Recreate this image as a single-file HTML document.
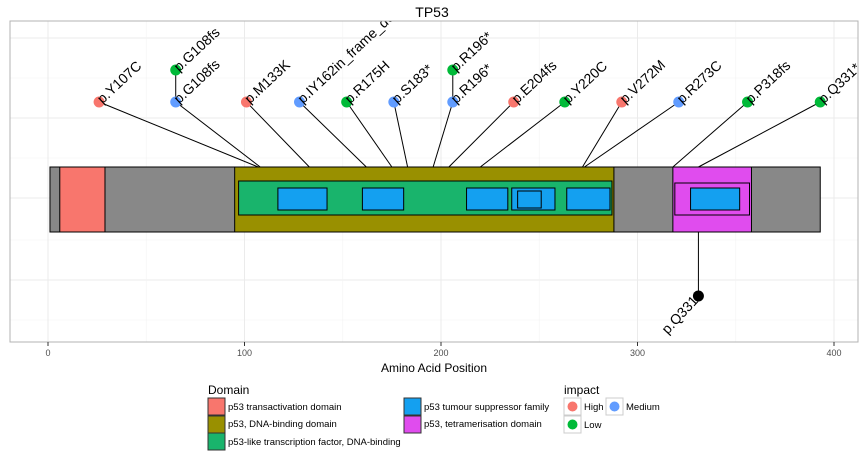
<!DOCTYPE html>
<html><head><meta charset="utf-8"><style>
body{margin:0;background:#fff;font-family:"Liberation Sans",sans-serif}
svg text{font-family:"Liberation Sans",sans-serif}
</style></head><body>
<svg id="c" width="864" height="468" viewBox="0 0 864 468" xmlns="http://www.w3.org/2000/svg">
<defs><clipPath id="pc"><rect x="10" y="21" width="848" height="321"/></clipPath></defs>
<text x="432" y="17" text-anchor="middle" font-size="14">TP53</text>
<g id="grid"></g>
<g id="plot" clip-path="url(#pc)"></g>
<rect x="10" y="21" width="848" height="321" fill="none" stroke="#b3b3b3"/>
<g id="axis"></g>
<text x="434" y="372" text-anchor="middle" font-size="12">Amino Acid Position</text>
<g>
<text x="208" y="394" font-size="12">Domain</text>
<rect x="208" y="398" width="17" height="17" fill="#F8766D" stroke="#333"/>
<text x="228" y="410" font-size="9.5">p53 transactivation domain</text>
<rect x="208" y="416" width="17" height="17" fill="#999000" stroke="#333"/>
<text x="228" y="427" font-size="9.5">p53, DNA-binding domain</text>
<rect x="208" y="433" width="17" height="17" fill="#19B46C" stroke="#333"/>
<text x="228" y="445" font-size="9.5">p53-like transcription factor, DNA-binding</text>
<rect x="404" y="398" width="17" height="17" fill="#14A0F0" stroke="#333"/>
<text x="424" y="410" font-size="9.5">p53 tumour suppressor family</text>
<rect x="404" y="416" width="17" height="17" fill="#E04CEE" stroke="#333"/>
<text x="424" y="427" font-size="9.5">p53, tetramerisation domain</text>
</g>
<g>
<text x="564" y="394" font-size="12">impact</text>
<rect x="564" y="398" width="17" height="17" fill="#fff" stroke="#ccc"/>
<circle cx="572.5" cy="406.5" r="5" fill="#F8766D"/>
<text x="584" y="410" font-size="9.5">High</text>
<rect x="606" y="398" width="17" height="17" fill="#fff" stroke="#ccc"/>
<circle cx="614.5" cy="406.5" r="5" fill="#619CFF"/>
<text x="626" y="410" font-size="9.5">Medium</text>
<rect x="564" y="416" width="17" height="17" fill="#fff" stroke="#ccc"/>
<circle cx="572.5" cy="424.5" r="5" fill="#00BA38"/>
<text x="584" y="428" font-size="9.5">Low</text>
</g>
</svg>
<script>
const xTicks=[0,100,200,300,400];
const proteinLength=[1,393];
const domainNames=["p53 transactivation domain","p53, DNA-binding domain","p53, tetramerisation domain"];
const domainStart=[6,95,318];
const domainEnd=[29,288,358];
const domainColor=["#F8766D","#999000","#E04CEE"];
const likeStart=[97],likeEnd=[287];
const familyStart=[117,160,213,236,264,327];
const familyEnd=[142,181,234,258,286,352];
const innerStart=[239],innerEnd=[251];
const tetraInnerStart=[319],tetraInnerEnd=[357];
const mutLabels=["p.Y107C","p.G108fs","p.G108fs","p.M133K","p.IY162in_frame_del","p.R175H","p.S183*","p.R196*","p.R196*","p.E204fs","p.Y220C","p.V272M","p.R273C","p.P318fs","p.Q331*"];
const mutPos=[107,108,108,133,162,175,183,196,196,204,220,272,273,318,331];
const mutSpread=[26,65,65,101,128,152,176,206,206,237,263,292,321,356,393];
const mutLevel=[1,1,2,1,1,1,1,1,2,1,1,1,1,1,1];
const mutImpact=["High","Medium","Low","High","Medium","Low","Medium","Medium","Low","High","Low","High","Medium","Low","Low"];
const lowLabels=["p.Q331*"];
const lowPos=[331];
const impactColor={High:"#F8766D",Medium:"#619CFF",Low:"#00BA38"};
const NS="http://www.w3.org/2000/svg";
const X=v=>48+1.965*v;
const Y=l=>134-32*l;
function mk(p,t,a){const e=document.createElementNS(NS,t);for(const k in a)e.setAttribute(k,a[k]);p.appendChild(e);return e;}
const grid=document.getElementById('grid'),plot=document.getElementById('plot'),axis=document.getElementById('axis');
mk(grid,'rect',{x:10,y:21,width:848,height:321,fill:'#fff'});
[38,78,118,158,198,240,280,320].forEach((y,i)=>{const l=mk(grid,'line',{x1:10,x2:858,y1:y,y2:y,stroke:i%2?'#f2f2f2':'#ebebeb','stroke-width':i%2?0.6:1});

});
for(let v=0;v<=400;v+=50){const l=mk(grid,'line',{x1:X(v),x2:X(v),y1:21,y2:342,stroke:v%100?'#f4f4f4':'#ebebeb','stroke-width':v%100?0.6:1});

}
xTicks.forEach(v=>{const l=mk(axis,'line',{x1:X(v),x2:X(v),y1:342,y2:346,stroke:'#333'});


const t=mk(axis,'text',{x:X(v),y:356,'text-anchor':'middle','font-size':9,fill:'#4d4d4d'});t.textContent=v;

});
mutPos.forEach((p,i)=>{const top=Y(mutLevel[i]);
let l;
if(mutLevel[i]===1){l=mk(plot,'line',{x1:X(p),y1:167,x2:X(mutSpread[i]),y2:top,stroke:'#000','stroke-width':1});}
else{l=mk(plot,'line',{x1:X(mutSpread[i]),y1:Y(1),x2:X(mutSpread[i]),y2:top,stroke:'#000','stroke-width':1});}

});
lowPos.forEach(p=>{const l=mk(plot,'line',{x1:X(p),y1:232,x2:X(p),y2:296,stroke:'#000'});

});
let r=mk(plot,'rect',{x:X(proteinLength[0]),y:167,width:X(proteinLength[1])-X(proteinLength[0]),height:65,fill:'#888',stroke:'#000'});


domainStart.forEach((s,i)=>{const d=mk(plot,'rect',{x:X(s),y:167,width:X(domainEnd[i])-X(s),height:65,fill:domainColor[i],stroke:'#000'});

});
likeStart.forEach((s,i)=>{const d=mk(plot,'rect',{x:X(s),y:181,width:X(likeEnd[i])-X(s),height:34,fill:'#19B46C',stroke:'#000'});

});
tetraInnerStart.forEach((s,i)=>{const d=mk(plot,'rect',{x:X(s),y:183,width:X(tetraInnerEnd[i])-X(s),height:32,fill:'#E04CEE',stroke:'#000'});

});
familyStart.forEach((s,i)=>{const d=mk(plot,'rect',{x:X(s),y:188,width:X(familyEnd[i])-X(s),height:22,fill:'#14A0F0',stroke:'#000'});

});
innerStart.forEach((s,i)=>{const d=mk(plot,'rect',{x:X(s),y:191,width:X(innerEnd[i])-X(s),height:17,fill:'#14A0F0',stroke:'#000'});

});
mutPos.forEach((p,i)=>{const cx=X(mutSpread[i]),cy=Y(mutLevel[i]);
const c=mk(plot,'circle',{cx:cx,cy:cy,r:5.5,fill:impactColor[mutImpact[i]]});


const t=mk(plot,'text',{x:cx+1,y:cy+4,'font-size':14,transform:`rotate(-43 ${cx} ${cy})`});t.textContent=mutLabels[i];

});
lowPos.forEach((p,i)=>{const cx=X(p),cy=296;
const c=mk(plot,'circle',{cx:cx,cy:cy,r:5.5,fill:'#000'});


const t=mk(plot,'text',{x:cx+2,y:cy+4,'font-size':14,'text-anchor':'end',transform:`rotate(-47 ${cx} ${cy})`});t.textContent=lowLabels[i];

});
</script>
</body></html>
